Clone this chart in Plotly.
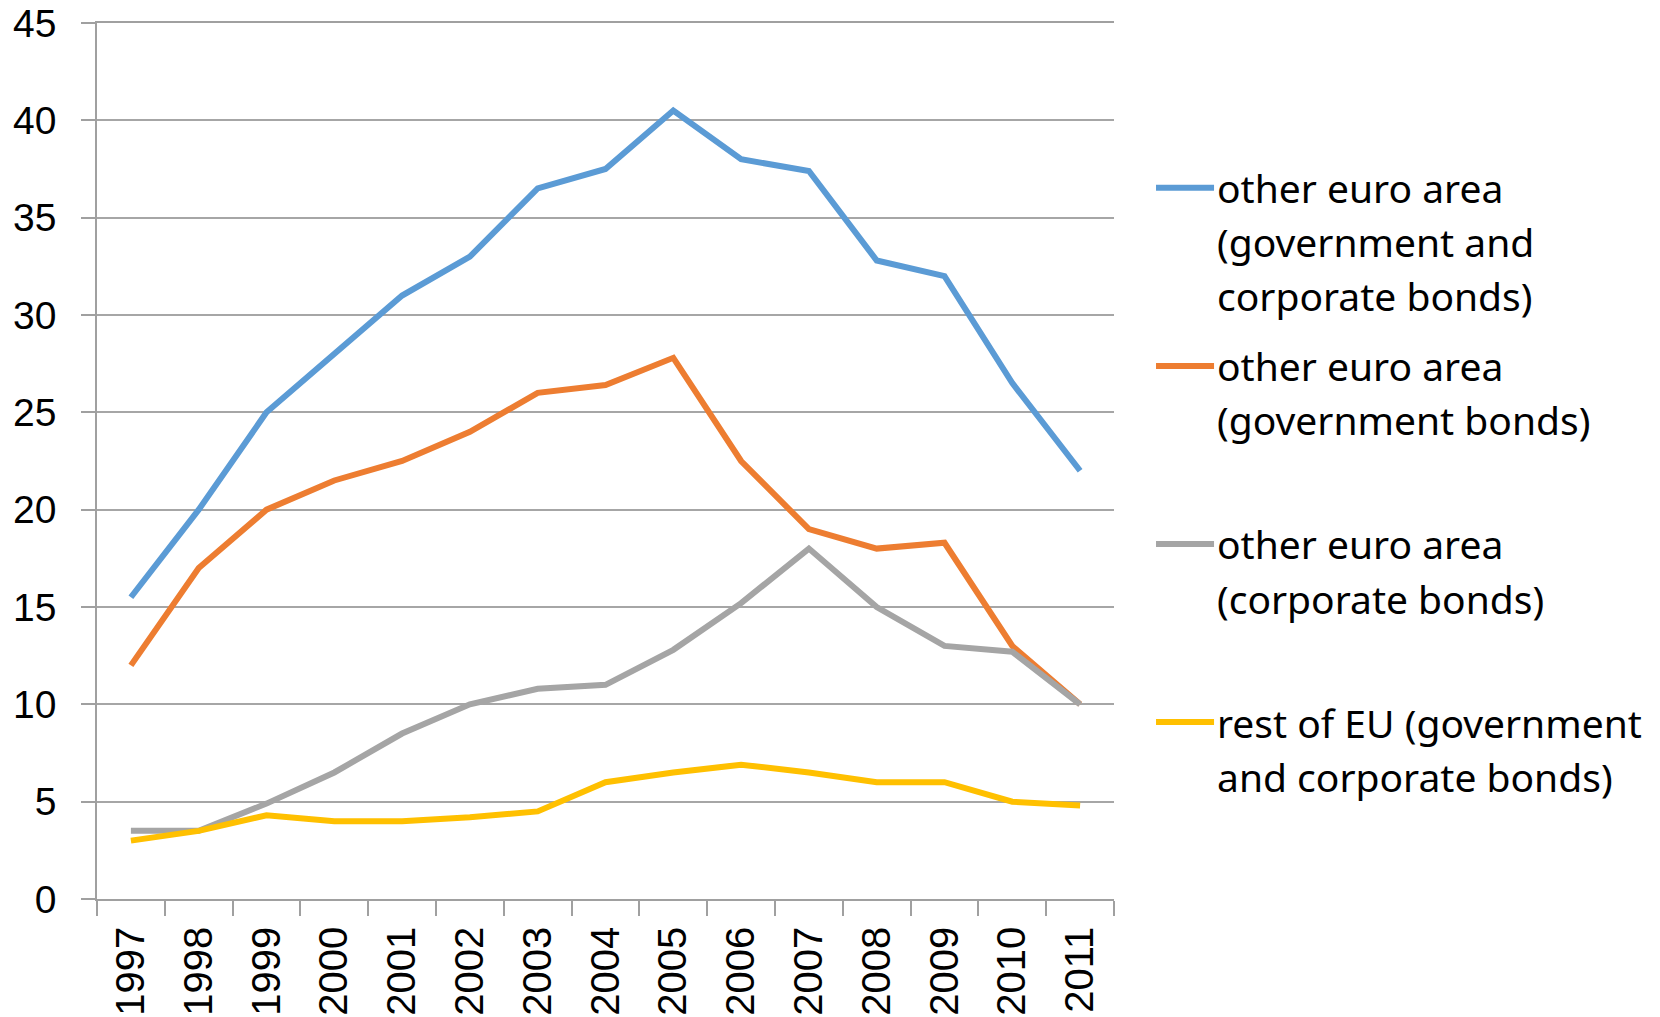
import plotly.graph_objects as go

years = ["1997", "1998", "1999", "2000", "2001", "2002", "2003", "2004",
         "2005", "2006", "2007", "2008", "2009", "2010", "2011"]

euro_gov_corp = [15.5, 20, 25, 28, 31, 33, 36.5, 37.5, 40.5, 38, 37.4, 32.8, 32, 26.5, 22]
euro_gov = [12, 17, 20, 21.5, 22.5, 24, 26, 26.4, 27.8, 22.5, 19, 18, 18.3, 13, 10]
euro_corp = [3.5, 3.5, 4.9, 6.5, 8.5, 10, 10.8, 11, 12.8, 15.2, 18, 15, 13, 12.7, 10]
rest_eu = [3, 3.5, 4.3, 4, 4, 4.2, 4.5, 6, 6.5, 6.9, 6.5, 6, 6, 5, 4.8]

legend_lines = [
    ["other euro area", "(government and", "corporate bonds)"],
    ["other euro area", "(government bonds)"],
    ["other euro area", "(corporate bonds)"],
    ["rest of EU (government", "and corporate bonds)"],
]
series = [euro_gov_corp, euro_gov, euro_corp, rest_eu]
colors = ["#5B9BD5", "#ED7D31", "#A5A5A5", "#FFC000"]

W, H = 1660, 1017
PL, PR, PT, PB = 97.4, 1114, 23.3, 898.8  # plot area in page pixels
L = PL
T = PT
R = W - PR
B = H - PB

fig = go.Figure()
for vals, lines, col in zip(series, legend_lines, colors):
    fig.add_trace(go.Scatter(
        x=years, y=vals, mode="lines", name=" ".join(lines),
        line=dict(color=col, width=6), showlegend=False,
    ))

def px_x(x):
    return (x - PL) / (PR - PL)

def px_y(y):
    return (PB - y) / (PB - PT)

entry_y = [188, 366, 544, 722]
line_gap = 54
for lines, col, y0 in zip(legend_lines, colors, entry_y):
    fig.add_shape(type="line", xref="paper", yref="paper",
                  x0=px_x(1156), x1=px_x(1214), y0=px_y(y0), y1=px_y(y0),
                  line=dict(color=col, width=6))
    for i, txt in enumerate(lines):
        fig.add_annotation(xref="paper", yref="paper", x=px_x(1215), y=px_y(y0 + i * line_gap),
                           text=txt, showarrow=False, xanchor="left", yanchor="middle",
                           font=dict(family="Noto Sans", size=39, color="#000000"))

fig.update_layout(
    width=W, height=H,
    margin=dict(l=L, r=R, t=T, b=B),
    paper_bgcolor="white", plot_bgcolor="white",
    showlegend=False,
)
fig.update_xaxes(
    type="category", range=[-0.5, 14.5], tickson="boundaries", ticks="outside", ticklen=15,
    tickcolor="#A0A0A0", tickwidth=1.5, tickangle=-90, ticklabelstandoff=10,
    showline=True, linecolor="#A0A0A0", linewidth=1.5, mirror=True,
    showgrid=False, automargin=False,
    tickfont=dict(family="Liberation Sans", size=40, color="#000000"),
)
fig.update_yaxes(
    range=[0, 45], tickvals=[0, 5, 10, 15, 20, 25, 30, 35, 40, 45],
    ticks="outside", ticklen=14, ticklabelstandoff=17, ticklabeloverflow="allow",
    tickcolor="#A0A0A0", tickwidth=1.5,
    showline=True, linecolor="#A0A0A0", linewidth=1.5,
    showgrid=True, gridcolor="#A6A6A6", gridwidth=1.5,
    zeroline=False, automargin=False,
    tickfont=dict(family="Liberation Sans", size=39, color="#000000"),
)

fig.write_html("out.html", config={"displayModeBar": False},
               post_script="document.body.style.margin='0';document.body.style.overflow='hidden';")
